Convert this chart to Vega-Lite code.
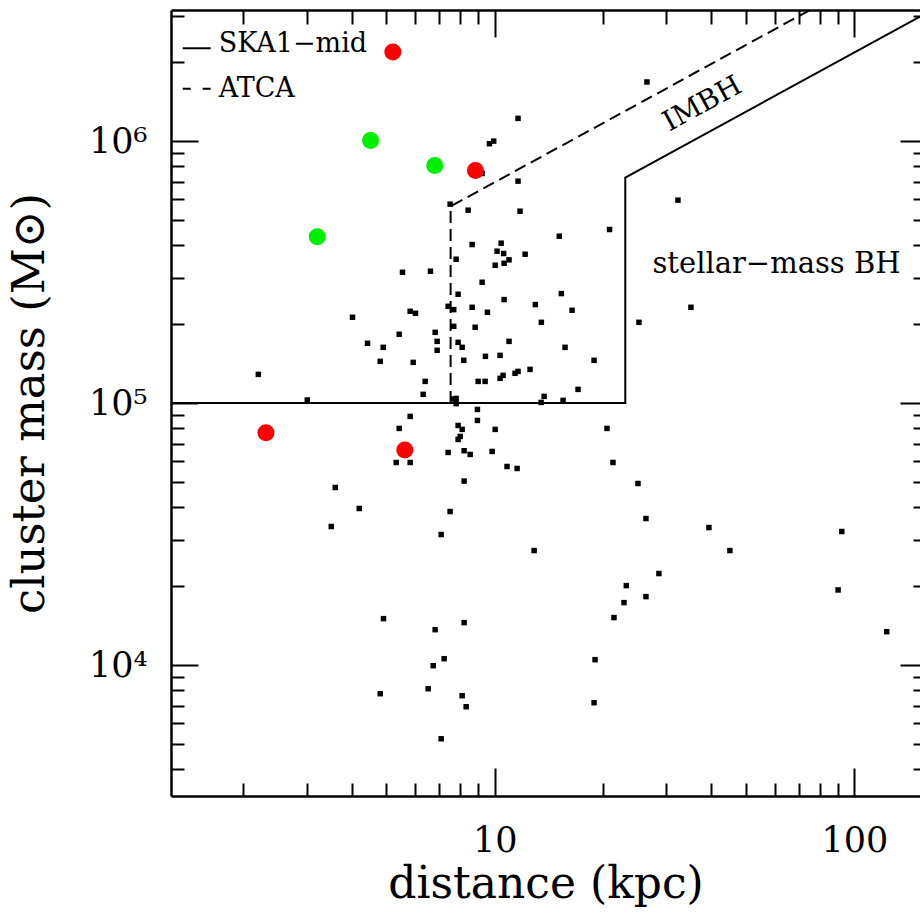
{
  "$schema": "https://vega.github.io/schema/vega-lite/v6.json",
  "width": 749,
  "height": 786,
  "autosize": {"type": "none"},
  "padding": {"left": 171, "top": 10, "right": 0, "bottom": 117},
  "config": {
    "view": {"stroke": null},
    "font": "DejaVu Serif",
    "axis": {
      "grid": false,
      "domainColor": "black",
      "domainWidth": 2.5,
      "tickColor": "black",
      "tickWidth": 2,
      "labelColor": "black",
      "titleColor": "black",
      "labelFont": "DejaVu Serif",
      "titleFont": "DejaVu Serif",
      "titleFontWeight": "normal",
      "labelFlush": false,
      "labelOverlap": false,
      "labelBound": false
    }
  },
  "datasets": {
    "pts": [
      {"d": 11.61, "m": 1220000}, {"d": 9.667, "m": 976500}, {"d": 9.936, "m": 999100}, {"d": 9.226, "m": 751800},
      {"d": 11.61, "m": 702700}, {"d": 7.517, "m": 574100}, {"d": 8.436, "m": 544500}, {"d": 11.76, "m": 539600},
      {"d": 8.655, "m": 402600}, {"d": 10.42, "m": 407300}, {"d": 10.15, "m": 379600}, {"d": 10.59, "m": 372000},
      {"d": 12.15, "m": 369700}, {"d": 7.812, "m": 353800}, {"d": 10.03, "m": 335600}, {"d": 10.62, "m": 341500},
      {"d": 10.96, "m": 351900}, {"d": 5.541, "m": 315500}, {"d": 6.628, "m": 318400}, {"d": 9.226, "m": 289000},
      {"d": 7.912, "m": 260000}, {"d": 10.62, "m": 248100}, {"d": 26.5, "m": 1680000}, {"d": 32.32, "m": 594600},
      {"d": 15.12, "m": 433100}, {"d": 20.86, "m": 459400}, {"d": 15.32, "m": 261600}, {"d": 12.97, "m": 237500},
      {"d": 7.422, "m": 233900}, {"d": 7.693, "m": 227200}, {"d": 8.655, "m": 231900}, {"d": 9.544, "m": 221900},
      {"d": 5.821, "m": 223900}, {"d": 6.022, "m": 220000}, {"d": 4.024, "m": 212400}, {"d": 13.48, "m": 203200},
      {"d": 7.693, "m": 196200}, {"d": 8.823, "m": 194500}, {"d": 5.425, "m": 182900}, {"d": 6.83, "m": 186100},
      {"d": 6.918, "m": 171900}, {"d": 6.918, "m": 158900}, {"d": 7.912, "m": 170400}, {"d": 8.119, "m": 163100},
      {"d": 10.96, "m": 171900}, {"d": 4.43, "m": 169000}, {"d": 4.898, "m": 163100}, {"d": 8.203, "m": 145500},
      {"d": 9.423, "m": 150700}, {"d": 10.35, "m": 152000}, {"d": 4.805, "m": 144200}, {"d": 5.934, "m": 142900},
      {"d": 2.202, "m": 128600}, {"d": 12.54, "m": 134400}, {"d": 11.39, "m": 129800}, {"d": 11.61, "m": 132000},
      {"d": 10.35, "m": 124200}, {"d": 10.55, "m": 127500}, {"d": 6.407, "m": 120900}, {"d": 8.993, "m": 120900},
      {"d": 9.404, "m": 120900}, {"d": 6.325, "m": 107900}, {"d": 3.012, "m": 102700}, {"d": 7.812, "m": 104100},
      {"d": 7.812, "m": 99390}, {"d": 7.693, "m": 103600}, {"d": 13.46, "m": 100500}, {"d": 8.952, "m": 94520},
      {"d": 5.821, "m": 88880}, {"d": 8.952, "m": 85800}, {"d": 7.912, "m": 82090}, {"d": 8.119, "m": 79300},
      {"d": 5.425, "m": 79990}, {"d": 10.03, "m": 79300}, {"d": 8.016, "m": 74540}, {"d": 7.912, "m": 72600},
      {"d": 7.422, "m": 64750}, {"d": 8.222, "m": 65730}, {"d": 8.545, "m": 63620}, {"d": 9.835, "m": 65330},
      {"d": 5.322, "m": 59290}, {"d": 5.821, "m": 59290}, {"d": 10.82, "m": 57240}, {"d": 11.54, "m": 56250},
      {"d": 8.222, "m": 50350}, {"d": 3.603, "m": 47580}, {"d": 4.201, "m": 39560}, {"d": 7.517, "m": 38530},
      {"d": 3.512, "m": 33770}, {"d": 7.098, "m": 31480}, {"d": 12.87, "m": 27340}, {"d": 16.41, "m": 225900},
      {"d": 35.12, "m": 231900}, {"d": 25.18, "m": 203200}, {"d": 15.69, "m": 163100}, {"d": 18.89, "m": 145500},
      {"d": 17.05, "m": 112700}, {"d": 13.72, "m": 106000}, {"d": 15.49, "m": 102300}, {"d": 20.52, "m": 79990},
      {"d": 21.32, "m": 59290}, {"d": 25.02, "m": 49290}, {"d": 26.33, "m": 36230}, {"d": 39.41, "m": 33470},
      {"d": 92.26, "m": 32320}, {"d": 45.07, "m": 27340}, {"d": 28.61, "m": 22340}, {"d": 4.907, "m": 15030},
      {"d": 8.222, "m": 14510}, {"d": 6.83, "m": 13640}, {"d": 7.235, "m": 10570}, {"d": 6.745, "m": 9938},
      {"d": 4.805, "m": 7770}, {"d": 6.531, "m": 8119}, {"d": 8.119, "m": 7635}, {"d": 8.33, "m": 6929},
      {"d": 7.098, "m": 5229}, {"d": 23.22, "m": 20090}, {"d": 22.88, "m": 17300}, {"d": 26.33, "m": 18240},
      {"d": 21.46, "m": 15170}, {"d": 19.01, "m": 10480}, {"d": 18.89, "m": 7178}, {"d": 90.1, "m": 19340},
      {"d": 123.0, "m": 13400}
    ],
    "big": [
      {"d": 5.208, "m": 2186000, "c": "red"},
      {"d": 8.839, "m": 772200, "c": "red"},
      {"d": 2.312, "m": 77000, "c": "red"},
      {"d": 5.623, "m": 66130, "c": "red"},
      {"d": 4.516, "m": 1005000, "c": "green"},
      {"d": 6.813, "m": 806900, "c": "green"},
      {"d": 3.211, "m": 430800, "c": "green"}
    ],
    "lines": [
      {"s": "ska", "i": 0, "d": 1.2589, "m": 100000},
      {"s": "ska", "i": 1, "d": 23.07, "m": 100000},
      {"s": "ska", "i": 2, "d": 23.07, "m": 725000},
      {"s": "ska", "i": 3, "d": 152.2, "m": 2985000},
      {"s": "atca", "i": 0, "d": 7.54, "m": 100000},
      {"s": "atca", "i": 1, "d": 7.54, "m": 563000},
      {"s": "atca", "i": 2, "d": 75.25, "m": 3162000},
      {"s": "ls", "i": 0, "d": 1.357, "m": 2259000},
      {"s": "ls", "i": 1, "d": 1.623, "m": 2259000},
      {"s": "ld", "i": 0, "d": 1.357, "m": 1584000},
      {"s": "ld", "i": 1, "d": 1.623, "m": 1584000}
    ],
    "txt": [
      {"k": "leg", "t": "SKA1−mid", "d": 1.708, "m": 2340000},
      {"k": "leg", "t": "ATCA", "d": 1.708, "m": 1575000},
      {"k": "imbh", "t": "IMBH", "d": 37.83, "m": 1380000},
      {"k": "bh", "t": "stellar−mass BH", "d": 60.73, "m": 340700}
    ]
  },
  "encoding": {
    "x": {"field": "d", "type": "quantitative", "scale": {"type": "log", "domain": [1.2589, 152.2], "nice": false, "zero": false}, "axis": null},
    "y": {"field": "m", "type": "quantitative", "scale": {"type": "log", "domain": [3162.3, 3162278], "nice": false, "zero": false}, "axis": null}
  },
  "layer": [
    {
      "data": {"name": "lines"},
      "transform": [{"filter": "datum.s == 'ska' || datum.s == 'ls'"}],
      "mark": {"type": "line", "color": "black", "strokeWidth": 2},
      "encoding": {"detail": {"field": "s"}, "order": {"field": "i", "type": "quantitative"}}
    },
    {
      "data": {"name": "lines"},
      "transform": [{"filter": "datum.s == 'atca'"}],
      "mark": {"type": "line", "color": "black", "strokeWidth": 2, "strokeDash": [12, 6]},
      "encoding": {"order": {"field": "i", "type": "quantitative"}}
    },
    {
      "data": {"name": "lines"},
      "transform": [{"filter": "datum.s == 'ld'"}],
      "mark": {"type": "line", "color": "black", "strokeWidth": 2, "strokeDash": [8, 12]},
      "encoding": {"order": {"field": "i", "type": "quantitative"}}
    },
    {
      "data": {"name": "pts"},
      "mark": {"type": "square", "color": "black", "filled": true, "size": 30, "opacity": 1},
      "encoding": {
        "x": {"field": "d", "type": "quantitative", "scale": {"type": "log", "domain": [1.2589, 152.2], "nice": false, "zero": false},
          "axis": {"orient": "bottom", "values": [2,3,4,5,6,7,8,9,10,20,30,40,50,60,70,80,90,100],
            "tickSize": {"condition": {"test": "datum.value == 10 || datum.value == 100", "value": -28}, "value": -13},
            "labelExpr": "datum.value == 10 ? '10' : datum.value == 100 ? '100' : ''",
            "labelFontSize": 35, "labelPadding": 55, "labelBaseline": "top",
            "title": "distance (kpc)", "titleFontSize": 44, "titlePadding": -11}},
        "y": {"field": "m", "type": "quantitative", "scale": {"type": "log", "domain": [3162.3, 3162278], "nice": false, "zero": false},
          "axis": {"orient": "left", "values": [4000,5000,6000,7000,8000,9000,10000,20000,30000,40000,50000,60000,70000,80000,90000,100000,200000,300000,400000,500000,600000,700000,800000,900000,1000000,2000000,3000000],
            "tickSize": {"condition": {"test": "datum.value == 10000 || datum.value == 100000 || datum.value == 1000000", "value": -27}, "value": -13},
            "labelExpr": "datum.value == 10000 ? '10⁴' : datum.value == 100000 ? '10⁵' : datum.value == 1000000 ? '10⁶' : ''",
            "labelFontSize": 35, "labelPadding": 51, "labelBaseline": "middle", "labelAlign": "right",
            "title": "cluster mass (M⊙)", "titleFontSize": 45, "titlePadding": 36}}
      }
    },
    {
      "data": {"name": "big"},
      "mark": {"type": "circle", "size": 290, "opacity": 1},
      "encoding": {
        "color": {"field": "c", "type": "nominal", "scale": {"domain": ["red", "green"], "range": ["#ff0000", "#00ee00"]}, "legend": null},
        "x": {"field": "d", "type": "quantitative", "scale": {"type": "log", "domain": [1.2589, 152.2], "nice": false, "zero": false},
          "axis": {"orient": "top", "values": [2,3,4,5,6,7,8,9,10,20,30,40,50,60,70,80,90,100],
            "tickSize": {"condition": {"test": "datum.value == 10 || datum.value == 100", "value": -27}, "value": -14},
            "labels": false, "title": null}},
        "y": {"field": "m", "type": "quantitative", "scale": {"type": "log", "domain": [3162.3, 3162278], "nice": false, "zero": false},
          "axis": {"orient": "right", "values": [4000,5000,6000,7000,8000,9000,10000,20000,30000,40000,50000,60000,70000,80000,90000,100000,200000,300000,400000,500000,600000,700000,800000,900000,1000000,2000000,3000000],
            "tickSize": {"condition": {"test": "datum.value == 10000 || datum.value == 100000 || datum.value == 1000000", "value": -20}, "value": -7},
            "labels": false, "domain": false, "title": null}}
      }
    },
    {
      "data": {"name": "txt"},
      "transform": [{"filter": "datum.k == 'leg'"}],
      "mark": {"type": "text", "align": "left", "baseline": "middle", "fontSize": 27, "font": "DejaVu Serif", "color": "black"},
      "encoding": {"text": {"field": "t"}}
    },
    {
      "data": {"name": "txt"},
      "transform": [{"filter": "datum.k == 'imbh'"}],
      "mark": {"type": "text", "align": "center", "baseline": "middle", "fontSize": 28, "angle": -28.6, "font": "DejaVu Serif", "color": "black"},
      "encoding": {"text": {"field": "t"}}
    },
    {
      "data": {"name": "txt"},
      "transform": [{"filter": "datum.k == 'bh'"}],
      "mark": {"type": "text", "align": "center", "baseline": "middle", "fontSize": 29, "font": "DejaVu Serif", "color": "black"},
      "encoding": {"text": {"field": "t"}}
    }
  ],
  "resolve": {"axis": {"x": "independent", "y": "independent"}}
}
